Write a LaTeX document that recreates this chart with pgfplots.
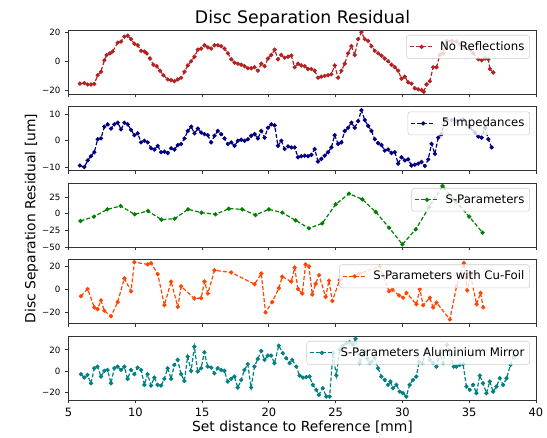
\documentclass[border=0pt]{standalone}
\usepackage{fontspec}
\setmainfont{DejaVu Sans}
\usepackage{pgfplots}
\pgfplotsset{compat=1.18}

\definecolor{cred}{HTML}{B22222}
\definecolor{cblue}{HTML}{000080}
\definecolor{cgreen}{HTML}{008000}
\definecolor{corange}{HTML}{FF4500}
\definecolor{cteal}{HTML}{008080}

\pgfplotsset{
  panel/.style={
    at={(51.4pt,#1)}, anchor=south west,
    scale only axis, width=350.6pt, height=48pt,
    xmin=5, xmax=40, xtick={5,10,...,40}, xticklabels={},
    tick align=outside, tick pos=left, major tick length=2.6pt,
    axis line style={black!80, line width=0.6pt},
    tick style={black!80, line width=0.6pt},
    yticklabel style={font=\fontsize{6.5}{7}\selectfont},
    /pgf/number format/assume math mode=true,
    legend cell align=left,
    legend image code/.code={
      \draw[mark repeat=2, mark phase=2] plot coordinates {(0pt,0pt) (9pt,0pt) (18pt,0pt)};},
    legend style={at={(1,1)}, anchor=north east, xshift=-4.5pt, yshift=-3.75pt,
      draw=black!20, fill=white, fill opacity=0.8, text opacity=1,
      rounded corners=2pt, inner xsep=2pt, inner ysep=2.6pt, column sep=2.5pt,
      font=\fontsize{8.8}{10}\selectfont},
  },
  series/.style={color=#1, dash pattern=on 3pt off 1.5pt, line width=0.9pt,
    mark=*, mark size=1.1pt, mark options={solid}},
}

\begin{document}
\begin{tikzpicture}
\useasboundingbox (0,0) rectangle (410.25pt,328.5pt);

% panel 1
\begin{axis}[panel=258pt, ymin=-22.5, ymax=21.5, ytick={-20,0,20}, yticklabels={−20,0,20}]
\addplot[series=cred] table {
5.85 -15.4
6.18 -15
6.43 -16
6.68 -16
6.93 -15.6
7.18 -9.6
7.43 -7.2
7.68 0.7
7.85 4.3
8.10 5.5
8.30 6.7
8.68 12.8
8.93 13.5
9.18 16.9
9.43 17.6
9.68 15.2
9.93 12
10.18 11
10.43 7.2
10.68 6.7
10.85 5.5
11.10 1.9
11.35 -2.4
11.60 -3.4
11.85 -6.5
12.10 -9.6
12.43 -12.5
12.68 -13
12.93 -13.7
13.18 -12.5
13.43 -11.3
13.68 -7.2
13.93 -2.9
14.18 0
14.43 3.1
14.68 8
14.93 8.7
15.18 11
15.43 9.6
15.68 8.7
15.93 11
16.18 11
16.43 10.4
16.68 8.7
16.93 5.5
17.18 1.4
17.43 -1
17.68 -1.7
17.93 -2.4
18.18 -3.4
18.43 -4.8
18.68 -4.8
18.93 -4.1
19.18 -6.5
19.43 -1.7
19.68 -3.4
19.93 1.9
20.18 4.3
20.43 8
20.68 1.4
20.93 4.3
21.18 2.4
21.43 3.1
21.68 3.9
21.93 -4.1
22.18 -1.7
22.43 -2.9
22.68 -3.4
22.93 -5.3
23.18 -5.3
23.43 -6.5
23.68 -11.3
23.93 -10.6
24.18 -10.1
24.43 -9.6
24.68 -8.9
24.93 -2.9
25.18 -11.3
25.43 -6.5
25.68 -1.7
25.93 5.5
26.18 10.4
26.43 4.3
26.68 15.2
26.93 20
27.18 15.2
27.43 14
27.68 10.4
27.93 7.2
28.18 5.5
28.43 3.9
28.68 1.9
28.93 0
29.18 -2.4
29.43 -4.1
29.68 -6.5
29.93 -12
30.18 -10.6
30.43 -14.5
30.68 -15.4
30.93 -18.6
31.18 -19.3
31.43 -19.8
31.60 -21
31.80 -16
32.05 -13.7
32.30 -4.1
32.55 -4.1
32.80 4.3
33.05 5.5
33.30 14
33.68 14
34.05 13.5
34.30 11.6
34.68 9.2
35.05 8
35.30 5.5
35.68 1.4
35.93 0.7
36.18 1.9
36.43 1.4
36.55 -5.3
36.80 -7.7
};
\addlegendentry{No Reflections}
\end{axis}

% panel 2
\begin{axis}[panel=200.6pt, ymin=-11.2, ymax=12.9, ytick={-10,0,10}, yticklabels={−10,0,10}]
\addplot[series=cblue] table {
5.85 -9.3
6.18 -9.9
6.43 -7.4
6.68 -5.8
6.93 -4.3
7.18 0.6
7.43 0.9
7.68 5.3
7.93 6.2
8.18 4.6
8.43 6.2
8.68 6.8
8.93 4.3
9.18 6.8
9.43 6.2
9.68 4.1
9.93 2.1
10.18 2.8
10.43 -0.6
10.68 0
10.93 -0.6
11.18 -2.8
11.43 -3.3
11.68 -1.9
11.93 -4.3
12.18 -4.1
12.43 -4.6
12.68 -2.8
12.93 -3.3
13.18 -1.6
13.43 -1.2
13.68 0.9
13.93 3.7
14.18 5.3
14.43 2.8
14.68 4.6
14.93 3.1
15.18 2.5
15.43 2.1
15.68 -0.6
15.93 1.9
16.18 3.7
16.43 2.5
16.68 0.9
16.93 -1.2
17.18 -0.6
17.43 -1.9
17.68 0
17.93 0.4
18.18 0
18.43 0.6
18.68 1.9
18.93 2.5
19.18 0.9
19.43 3.7
19.68 1.2
19.93 4.9
20.18 6.2
20.43 5.8
20.68 -1.9
20.93 0
21.18 -3.1
21.43 -2.1
21.68 -2.5
21.93 -2.5
22.18 -6.2
22.43 -5.8
22.68 -5.6
22.93 -5.8
23.18 -5.3
23.43 -3.1
23.68 -7.8
23.93 -6.8
24.18 -5.6
24.43 -4.3
24.68 -2.5
24.93 2.1
25.18 -1.2
25.43 -0.6
25.68 3.7
25.93 4.9
26.18 6.8
26.43 4.9
26.68 7.4
26.93 11.5
27.18 7.8
27.43 5.6
27.68 3.7
27.93 0.6
28.18 -0.9
28.43 -1.6
28.68 -3.7
28.93 -3.3
29.18 -4.6
29.43 -4.3
29.68 -8.6
29.93 -6.2
30.18 -7.4
30.43 -7
30.68 -9.3
30.93 -9
31.18 -8.6
31.43 -8
31.68 -9.5
31.93 -7
32.18 -1.2
32.43 -4.9
32.68 1.2
32.93 2.5
33.18 8
33.68 7.8
34.05 7.4
34.55 8
35.05 4.9
35.43 3.1
35.68 1.6
35.93 1.2
36.18 4.9
36.43 0.6
36.68 -2.5
};
\addlegendentry{5 Impedances}
\end{axis}

% panel 3
\begin{axis}[panel=143.25pt, ymin=-50, ymax=46, ytick={-50,-25,0,25}, yticklabels={−50,−25,0,25}]
\addplot[series=cgreen] table {
5.9 -11
6.9 -4.5
7.9 6.5
8.9 11.5
9.95 -1
10.95 4
11.95 -9
12.95 -7.5
13.95 6.5
14.95 1.5
16 -1
17 7.5
18 6.5
19 -2
20 6.5
21 1.5
22 -10
23 -22
24 -14.5
25 14
26 30
27 21.5
28 2.5
29 -21
30 -46
31 -23.5
32 10
33 41.5
34 18
35 -4.5
36 -28.5
};
\addlegendentry{S-Parameters}
\end{axis}

% panel 4
\begin{axis}[panel=85.875pt, ymin=-30, ymax=25.7, ytick={-20,0,20}, yticklabels={−20,0,20}]
\addplot[series=corange] table {
5.93 -6.2
6.43 0
6.93 -16
7.18 -17.5
7.43 -9.9
7.68 -18.9
8.18 -23.7
8.68 -11.3
9.18 9.3
9.68 -2
9.93 23.4
10.93 21.4
11.18 22.5
11.68 13
12.18 -14.1
12.68 6.5
13.18 -15.5
13.43 2.3
14.43 -8.2
14.93 -7.9
15.18 6.5
15.43 -3.9
15.93 16.3
17.18 14.4
18.93 4.2
19.43 13.5
19.75 -20.3
20.25 -11.3
20.75 0.8
21.00 10.7
21.68 6.5
21.93 18.6
22.18 0
22.50 -3.9
22.75 21.4
23.00 19.7
23.25 -4.8
23.50 4.5
23.75 12.1
24.25 -6.8
24.50 7.3
24.75 -10.4
25.30 7.9
26.80 13.5
28.30 19.7
29.00 -2
29.25 -0.6
29.75 -5.6
30.05 -7.6
30.30 -3.4
31.05 -13.2
31.30 0
31.55 -14.1
32.05 -7.6
32.30 -16
32.55 -11.8
33.55 -26.5
34.05 2.3
34.60 22.5
34.85 -1.1
35.10 12.1
35.55 -13.2
35.85 -3.4
36.05 -16
};
\addlegendentry{S-Parameters with Cu-Foil}
\end{axis}

% panel 5
\begin{axis}[panel=28.5pt, ymin=-27, ymax=33, ytick={-20,0,20}, yticklabels={−20,0,20},
  xticklabels={5,10,15,20,25,30,35,40},
  xticklabel style={font=\fontsize{8.6}{10}\selectfont}]
\addplot[series=cteal] table {
5.93 -2.8
6.18 -6
6.42 -3.5
6.68 -11.3
6.93 2.8
7.17 4.3
7.43 -5
7.68 0.3
7.92 1.2
8.18 -11.3
8.43 2.8
8.67 4.3
8.93 1.2
9.18 4.3
9.42 -7.2
9.68 1.2
9.93 -2.8
10.17 3.4
10.43 1.2
10.68 -12.8
10.92 -2.8
11.18 -13.5
11.42 -6
11.67 -12.8
11.93 -13.5
12.17 -7.2
12.42 2.8
12.68 -7.2
12.92 5.9
13.17 10.6
13.43 -2.8
13.67 -9.1
13.92 13.7
14.18 0.3
14.42 23
14.67 -0.4
14.93 2.8
15.17 17.8
15.42 4.3
15.68 3.4
15.92 -1.9
16.17 2.8
16.43 1.2
16.67 0.3
16.92 -9.7
17.17 -7.2
17.42 -5
17.67 -15.3
17.93 -8.2
18.17 1.2
18.42 6.6
18.67 -15.3
18.92 4.3
19.17 11.5
19.43 19
19.67 10.6
19.92 14.6
20.17 14.6
20.42 7.5
20.74 24
21.04 16.9
21.30 12.2
21.55 7.5
21.75 10.6
22.05 4.3
22.30 -4.1
22.55 -6
22.80 -5.5
23.04 -5
23.29 -12.8
23.55 -17.5
23.74 -22.2
24.04 -15.9
24.30 -23.8
24.55 -23.8
24.80 17
25.05 -4
25.30 20
25.55 24
25.80 26.2
26.04 27.2
26.30 25
26.49 30.3
26.79 7.5
27.04 15
27.17 18.4
27.35 12
27.54 7.5
27.70 9
27.92 12.2
28.17 2.8
28.42 -5
28.67 -8.2
28.92 -12.8
29.10 -9.7
29.29 -15.9
29.55 -12.8
29.79 -19.1
30.04 -20.6
30.29 -23.8
30.54 -12.8
30.79 -8.2
31.04 -5
31.25 9
31.50 7.5
31.75 20
32.04 10.6
32.30 7.5
32.54 4.3
32.79 16.9
33.04 7.5
33.34 24.6
33.60 15.3
33.84 4.3
34.04 4.3
34.29 5.9
34.54 6.6
34.79 -14.4
35.04 -17.5
35.29 -12.8
35.54 -20.6
35.79 -4.1
36.03 -11.3
36.29 -20.6
36.54 -9.7
36.79 -19.1
37.04 -14.4
37.29 -6.6
37.54 -12.8
37.79 -6.6
38.09 5.9
38.33 13.7
};
\addlegendentry{S-Parameters Aluminium Mirror}
\end{axis}

\node[anchor=base, font=\fontsize{13}{15}\selectfont] at (226.9pt,311pt) {Disc Separation Residual};
\node[anchor=base, font=\fontsize{10.4}{12}\selectfont] at (226.9pt,4.9pt) {Set distance to Reference [mm]};
\node[anchor=base, rotate=90, font=\fontsize{10.4}{12}\selectfont] at (26.6pt,164.6pt) {Disc Separation Residual [um]};
\end{tikzpicture}
\end{document}
